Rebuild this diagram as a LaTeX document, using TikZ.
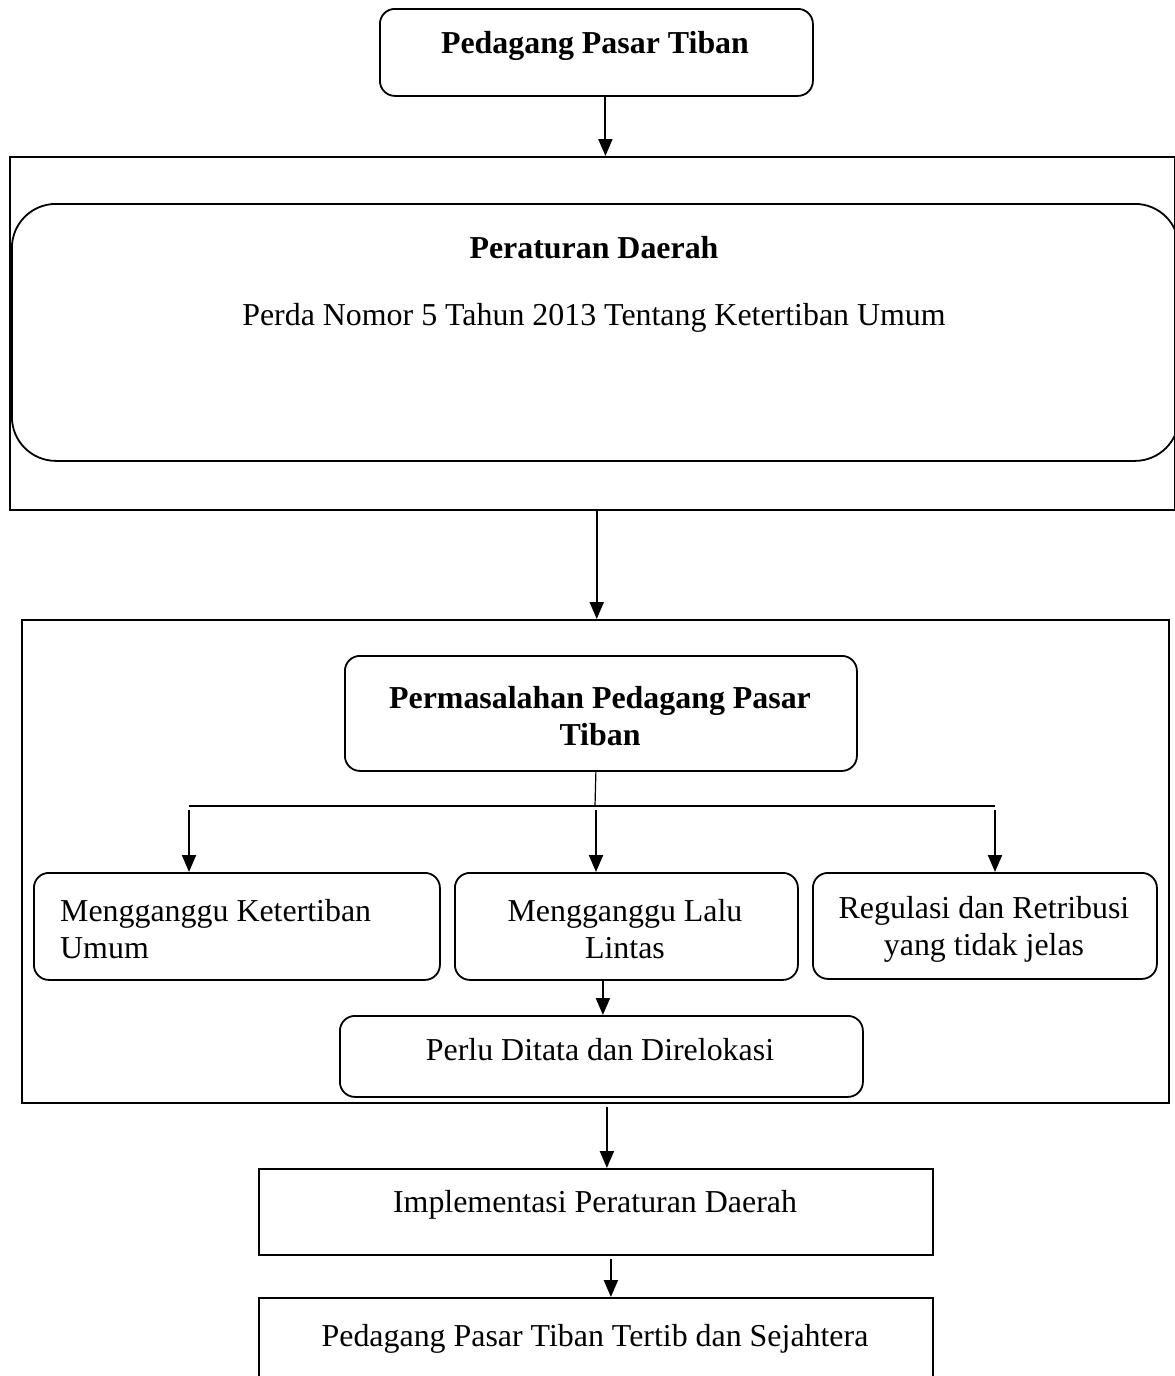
\documentclass[tikz,border=0pt]{standalone}
\usepackage{fontspec}
\setmainfont{Liberation Serif}
\usetikzlibrary{arrows.meta}
\begin{document}
\begin{tikzpicture}[x=1pt,y=-1pt,
  every node/.style={font=\fontsize{31.9}{37}\selectfont},
  bf/.style={font=\fontsize{31.9}{37}\selectfont\bfseries, inner sep=0pt, align=center},
  txt/.style={inner sep=0pt, align=center},
  box/.style={draw, line width=1.8pt, inner sep=0pt, anchor=north west},
  rbox/.style={box, rounded corners=15pt},
  arr/.style={line width=2pt, -{Triangle[width=14pt,length=17pt]}},
]
\useasboundingbox (0,0) rectangle (1175,1376);
\clip (0,0) rectangle (1175,1376);

% top
\node[rbox, minimum width=433pt, minimum height=87pt] (top) at (379,8) {};
\node[bf] (topT) at (595,46) {Pedagang Pasar Tiban};

% peraturan daerah
\node[box, line width=1.5pt, minimum width=1165pt, minimum height=353pt] (reg) at (9,156) {};
\node[box, rounded corners=44pt, minimum width=1167pt, minimum height=257pt] (regin) at (11,203) {};
\node[bf] (regT) at (594,248) {Peraturan Daerah};
\node[txt] (perda) at (594,318) {Perda Nomor 5 Tahun 2013 Tentang Ketertiban Umum};

\draw[arr] ([xshift=9pt]top.south) -- ([xshift=9pt]top.south |- reg.north);

% permasalahan block
\node[box, minimum width=1147pt, minimum height=483pt] (prob) at (21,619) {};
\draw[arr] ([xshift=4.5pt]reg.south) -- ([xshift=4.5pt]reg.south |- prob.north);

\node[rbox, minimum width=512pt, minimum height=115pt] (perm) at (344,655) {};
\node[bf] (permT) at (600,716) {Permasalahan Pedagang Pasar\\Tiban};

\coordinate (bm) at (595,806);
\coordinate (bl) at (189,806);
\coordinate (br) at (995,806);
\coordinate (al) at (189,810);
\coordinate (am) at (596,810);
\coordinate (ar) at (995,810);
\draw[line width=1.2pt] ([xshift=-5pt]perm.south) -- (bm);
\draw[line width=2pt] (bl) -- (br);

\node[rbox, minimum width=406pt, minimum height=107pt] (ma) at (33,872) {};
\node[rbox, minimum width=343pt, minimum height=107pt] (mb) at (454,872) {};
\node[rbox, minimum width=344pt, minimum height=106pt] (mc) at (812,872) {};
\node[txt, align=left, anchor=west] (maT) at (60,929) {Mengganggu Ketertiban\\Umum};
\node[txt] (mbT) at (625,929) {Mengganggu Lalu\\Lintas};
\node[txt] (mcT) at (984,929) {Regulasi dan Retribusi\\yang tidak jelas};

\draw[arr] (al) -- (al |- ma.north);
\draw[arr] (am) -- (am |- mb.north);
\draw[arr] (ar) -- (ar |- mc.north);

\node[rbox, minimum width=523pt, minimum height=81pt] (perlu) at (339,1015) {};
\node[txt] (perluT) at (600,1050) {Perlu Ditata dan Direlokasi};
\draw[arr] ([xshift=-23.5pt]mb.south) -- ([xshift=-23.5pt]mb.south |- perlu.north);

% implementation
\node[box, minimum width=674pt, minimum height=86pt] (impl) at (258,1168) {};
\node[txt] (implT) at (595,1205) {Implementasi Peraturan Daerah};
\draw[arr] ([xshift=11.5pt,yshift=-3pt]prob.south) -- ([xshift=11.5pt]prob.south |- impl.north);

\node[box, minimum width=674pt, minimum height=110pt] (fin) at (258,1297) {};
\node[txt] (finT) at (595,1339) {Pedagang Pasar Tiban Tertib dan Sejahtera};
\draw[arr] ([xshift=15pt,yshift=-3pt]impl.south) -- ([xshift=15pt]impl.south |- fin.north);
\end{tikzpicture}
\end{document}
